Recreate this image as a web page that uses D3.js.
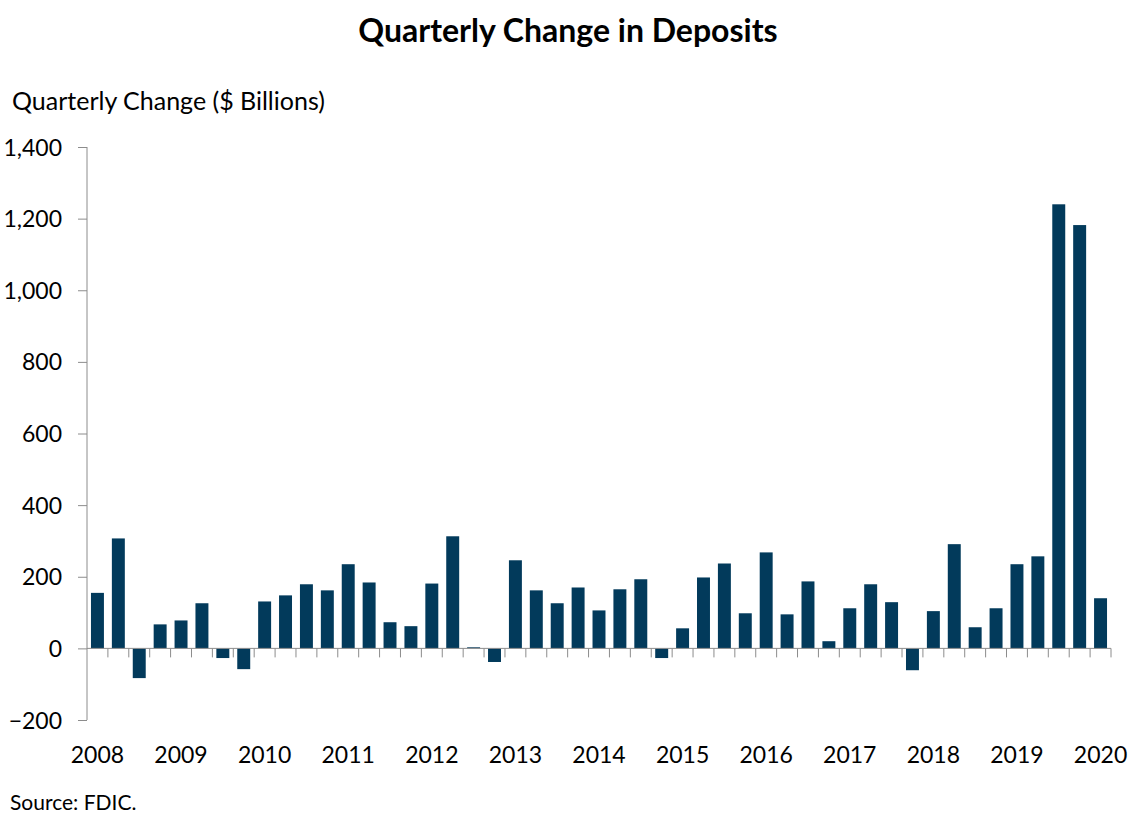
<!DOCTYPE html>
<html>
<head>
<meta charset="utf-8">
<script src="https://cdn.jsdelivr.net/npm/d3@7"></script>
<style>
  html, body { margin: 0; padding: 0; background: #fff; }
  svg { display: block; }
</style>
</head>
<body>
<svg id="chart"></svg>
<script>
const quarters = [
  '2008Q1', '2008Q2', '2008Q3', '2008Q4', '2009Q1', '2009Q2', '2009Q3', '2009Q4',
  '2010Q1', '2010Q2', '2010Q3', '2010Q4', '2011Q1', '2011Q2', '2011Q3', '2011Q4',
  '2012Q1', '2012Q2', '2012Q3', '2012Q4', '2013Q1', '2013Q2', '2013Q3', '2013Q4',
  '2014Q1', '2014Q2', '2014Q3', '2014Q4', '2015Q1', '2015Q2', '2015Q3', '2015Q4',
  '2016Q1', '2016Q2', '2016Q3', '2016Q4', '2017Q1', '2017Q2', '2017Q3', '2017Q4',
  '2018Q1', '2018Q2', '2018Q3', '2018Q4', '2019Q1', '2019Q2', '2019Q3', '2019Q4',
  '2020Q1'
];
const changes = [
  155, 307, -83, 67, 78, 126, -27, -58,
  131, 148, 179, 162, 235, 184, 73, 62,
  181, 313, 3, -38, 246, 162, 126, 170,
  106, 165, 193, -27, 56, 198, 237, 98,
  268, 95, 187, 20, 112, 179, 129, -61,
  104, 291, 59, 112, 235, 257, 1240, 1182,
  140
];
const yearLabels = ['2008', '2009', '2010', '2011', '2012', '2013', '2014',
  '2015', '2016', '2017', '2018', '2019', '2020'];
const yTicks = [-200, 0, 200, 400, 600, 800, 1000, 1200, 1400];

const width = 1136;
const height = 824;
const margin = { top: 147, right: 25, bottom: 104, left: 87 };
const innerWidth = width - margin.left - margin.right;
const innerHeight = height - margin.top - margin.bottom;
const font = 'Lato, "Noto Sans", sans-serif';

const svg = d3.select('#chart')
  .attr('width', width)
  .attr('height', height)
  .attr('font-family', font);

const g = svg.append('g')
  .attr('transform', `translate(${margin.left}, ${margin.top})`);

const xScale = d3.scaleBand()
  .domain(quarters)
  .range([0, innerWidth])
  .paddingInner(0.38)
  .paddingOuter(0.19);

const yScale = d3.scaleLinear()
  .domain([-200, 1400])
  .range([innerHeight, 0]);

const axisColor = '#8c8c8c';

// y axis
const yAxis = g.append('g')
  .attr('class', 'axis axis--y')
  .call(d3.axisLeft(yScale).tickValues(yTicks).tickSize(9).tickPadding(16)
    .tickFormat(d3.format(',')))
  .attr('font-family', font)
  .attr('font-size', 23);
yAxis.select('.domain').attr('stroke', axisColor).attr('d', `M0,${yScale(-200)}V${yScale(1400)}`);
yAxis.selectAll('.tick line').attr('stroke', axisColor);
yAxis.selectAll('.tick text').attr('fill', '#000').attr('dy', '0.35em');

// bars
g.selectAll('.bar')
  .data(changes)
  .enter().append('rect')
    .attr('class', 'bar')
    .attr('x', (d, i) => xScale(quarters[i]))
    .attr('y', d => yScale(Math.max(0, d)))
    .attr('width', xScale.bandwidth())
    .attr('height', d => Math.abs(yScale(d) - yScale(0)))
    .attr('fill', '#023a5b');

// x axis at zero with tick marks between quarters
const xAxis = g.append('g')
  .attr('class', 'axis axis--x')
  .attr('transform', `translate(0, ${yScale(0)})`);
xAxis.append('line')
  .attr('x1', 0).attr('x2', innerWidth)
  .attr('stroke', axisColor);
xAxis.selectAll('.qtick')
  .data(quarters.slice(1).concat(['end']))
  .enter().append('line')
    .attr('class', 'qtick')
    .attr('x1', (d, i) => i < quarters.length - 1 ? xScale(d) - xScale.step() * xScale.paddingInner() / 2 : innerWidth)
    .attr('x2', (d, i) => i < quarters.length - 1 ? xScale(d) - xScale.step() * xScale.paddingInner() / 2 : innerWidth)
    .attr('y1', 0).attr('y2', 9)
    .attr('stroke', axisColor);

// year labels under each Q1 bar
g.selectAll('.year')
  .data(yearLabels)
  .enter().append('text')
    .attr('class', 'year')
    .attr('x', d => xScale(d + 'Q1') + xScale.bandwidth() / 2)
    .attr('y', innerHeight + 43)
    .attr('text-anchor', 'middle')
    .attr('font-size', 23)
    .text(d => d);

// titles
svg.append('text')
  .attr('x', 568)
  .attr('y', 42)
  .attr('text-anchor', 'middle')
  .attr('font-size', 32)
  .attr('font-weight', 'bold')
  .text('Quarterly Change in Deposits');

svg.append('text')
  .attr('x', 12)
  .attr('y', 110)
  .attr('font-size', 25)
  .text('Quarterly Change ($ Billions)');

svg.append('text')
  .attr('x', 10)
  .attr('y', 810)
  .attr('font-size', 21)
  .text('Source: FDIC.');
</script>
</body>
</html>
